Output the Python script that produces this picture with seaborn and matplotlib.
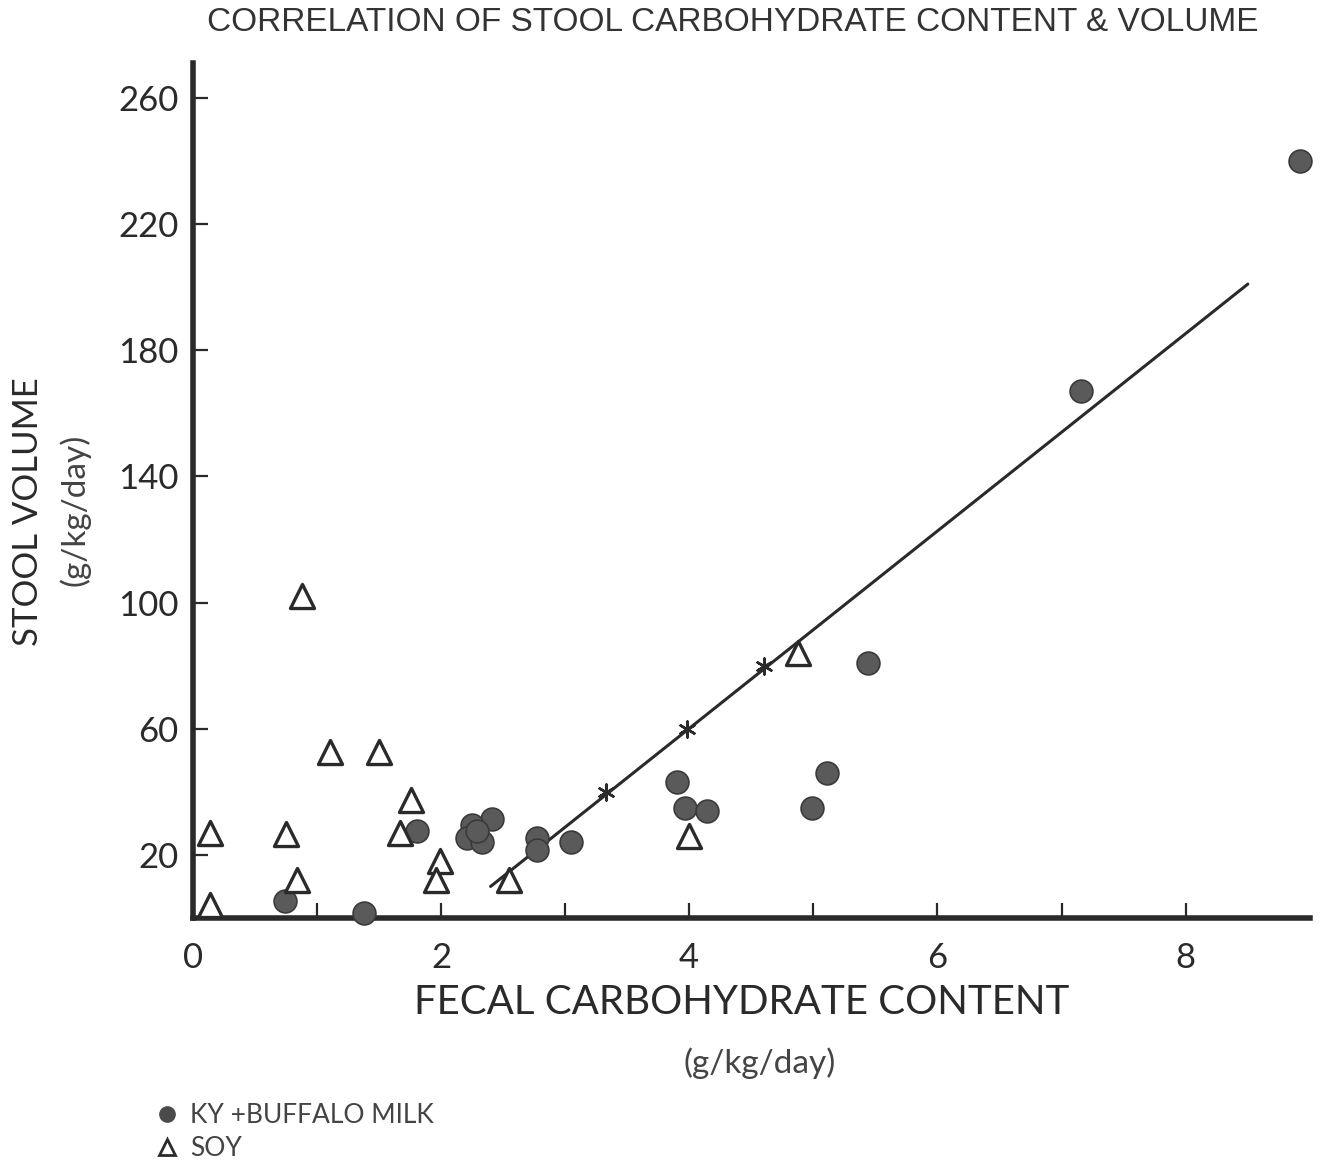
import pandas as pd
import matplotlib
matplotlib.use("Agg")
import matplotlib.pyplot as plt
import seaborn as sns
from matplotlib.lines import Line2D

# KY + buffalo milk (filled circles)
milk_x = [8.92, 7.16, 5.44, 5.11, 4.99, 3.90, 3.97, 4.14, 3.05, 2.77, 2.77,
          2.41, 2.25, 2.21, 2.33, 2.29, 1.81, 0.74, 1.38]
milk_y = [240, 167, 81, 46, 35, 43, 35, 34, 24, 25.5, 21.5,
          31.5, 29.5, 25.5, 24, 27.5, 27.5, 5.5, 1.5]

# soy (open triangles)
soy_x = [0.88, 1.11, 1.50, 1.76, 1.67, 1.99, 1.96, 2.55, 0.14, 0.75, 0.84, 0.14, 4.88, 4.00]
soy_y = [102, 52.5, 52.5, 37.5, 27, 18, 12, 12, 27, 26.5, 12, 4, 84, 26]

# regression line and the starred points on it
line_x = [2.40, 8.50]
line_y = [10, 201]
star_x = [3.33, 3.98, 4.60]
star_y = [40, 60, 80]

x_ticks = [0, 2, 4, 6, 8]
y_ticks = [20, 60, 100, 140, 180, 220, 260]

milk = pd.DataFrame({"x": milk_x, "y": milk_y})
soy = pd.DataFrame({"x": soy_x, "y": soy_y})
fit = pd.DataFrame({"x": line_x, "y": line_y})
stars = pd.DataFrame({"x": star_x, "y": star_y})

sns.set_style("ticks")
plt.rcParams['font.family'] = ['Lato', 'DejaVu Sans']

fig = plt.figure(figsize=(13.38, 11.66), dpi=100)
ax = fig.add_axes([0.144, 0.2127, 0.835, 0.733])

ink = "#2a2a2a"
sns.lineplot(data=fit, x="x", y="y", ax=ax, color=ink, linewidth=2.2)
sns.scatterplot(data=stars, x="x", y="y", ax=ax, marker=(6, 2, 0), s=130,
                color=ink, linewidth=1.8, zorder=4)
sns.scatterplot(data=milk, x="x", y="y", ax=ax, marker="o", s=270,
                color="#5a5a5a", edgecolor="#3a3a3a", linewidth=1.2,
                zorder=5, clip_on=False)
sns.scatterplot(data=soy, x="x", y="y", ax=ax, marker="^", s=300,
                facecolor="white", edgecolor=ink, linewidth=2.4,
                zorder=5, clip_on=False)

ax.set_xlim(0, 9.0)
ax.set_ylim(0, 271)
ax.set_xticks(x_ticks)
ax.set_xticks([1, 3, 5, 7], minor=True)
ax.set_yticks(y_ticks)
ax.tick_params(axis="both", direction="in", length=11, width=1.6,
               labelsize=25, colors=ink)
ax.tick_params(axis="x", which="minor", direction="in", length=11, width=1.6)
ax.tick_params(axis="x", pad=17)
ax.tick_params(axis="y", pad=10)

sns.despine(ax=ax)
for side in ["left", "bottom"]:
    ax.spines[side].set_linewidth(4)
    ax.spines[side].set_color(ink)

ax.set_xlabel("")
ax.set_ylabel("")

fig.text(0.548, 0.981, "CORRELATION OF STOOL CARBOHYDRATE CONTENT & VOLUME",
         ha="center", va="center", fontsize=24, color="#333333",
         family=["Liberation Sans Narrow", "Liberation Sans", "DejaVu Sans"])
fig.text(0.554, 0.140, "FECAL CARBOHYDRATE CONTENT", ha="center", va="center",
         fontsize=29, color=ink)
fig.text(0.568, 0.088, "(g/kg/day)", ha="center", va="center",
         fontsize=24, color="#444444")
fig.text(0.021, 0.561, "STOOL VOLUME", ha="center", va="center",
         rotation=90, fontsize=25, color=ink)
fig.text(0.056, 0.563, "(g/kg/day)", ha="center", va="center",
         rotation=90, fontsize=24, color="#444444")

handles = [
    Line2D([], [], marker="o", linestyle="none", markersize=11,
           markerfacecolor="#4a4a4a", markeredgecolor="#4a4a4a"),
    Line2D([], [], marker="^", linestyle="none", markersize=12,
           markerfacecolor="white", markeredgecolor=ink, markeredgewidth=2),
]
fig.legend(handles, ["KY +BUFFALO MILK", "SOY"], loc="lower left",
           bbox_to_anchor=(0.097, -0.016), frameon=False, fontsize=19,
           handletextpad=0.4, labelspacing=0.3, handlelength=1.0,
           labelcolor="#444444")

fig.savefig("out.png", dpi=100)
